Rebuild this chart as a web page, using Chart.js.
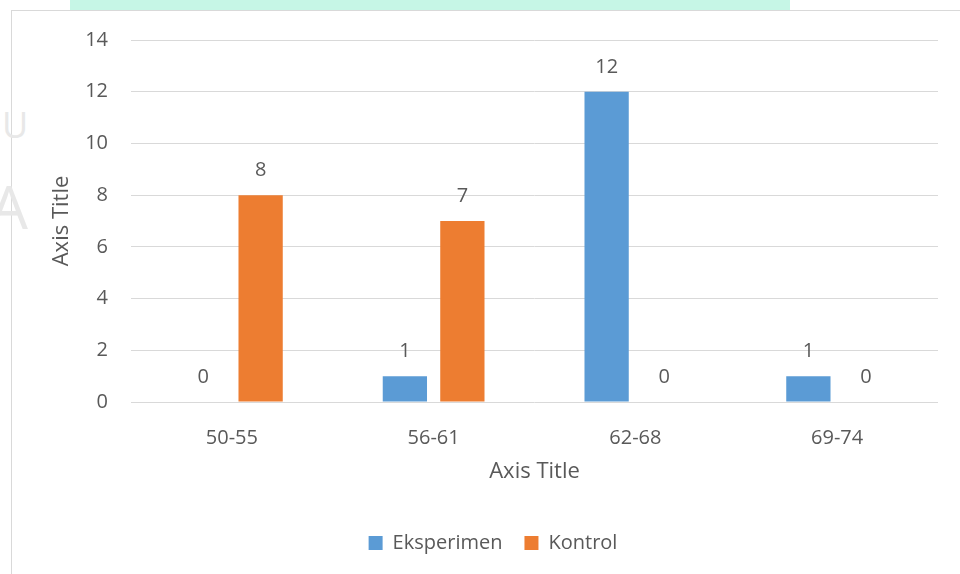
<!DOCTYPE html>
<html>
<head>
<meta charset="utf-8">
<script src="https://cdn.jsdelivr.net/npm/chart.js@4.4.1/dist/chart.umd.min.js"></script>
<style>
    html, body { margin: 0; padding: 0; width: 960px; height: 574px; overflow: hidden; background: #fff; }
    .band { position: absolute; left: 70px; top: 0; width: 720px; height: 10px; background: #c6f6e6; }
    .frame { position: absolute; left: 11px; top: 10px; width: 1000px; height: 600px; border: 1px solid #d9d9d9; }
    .wm { position: absolute; color: #e8e8e8; font-family: 'Open Sans', sans-serif; }
    .wrap { position: absolute; left: 0; top: 0; width: 960px; height: 574px; }
</style>
</head>
<body>
<div class="band"></div>
<div class="frame"></div>
<div class="wm" style="left:2px; top:100px; font-size:36px;">U</div>
<div class="wm" style="left:-10px; top:165px; font-size:60px;">A</div>
<div class="wrap"><canvas id="chart"></canvas></div>
<script>
// ─── Data ───
const categories = ['50-55', '56-61', '62-68', '69-74'];
const eksperimen = [0, 1, 12, 1];
const kontrol = [8, 7, 0, 0];
const yMin = 0, yMax = 14, yStep = 2;

const textColor = '#595959';
Chart.defaults.font.family = "'Open Sans', sans-serif";
Chart.defaults.color = textColor;

// value labels above each bar (zeros included)
const barLabels = {
    id: 'barLabels',
    afterDatasetsDraw(chart) {
        const ctx = chart.ctx;
        ctx.save();
        ctx.font = "20px 'Open Sans', sans-serif";
        ctx.fillStyle = textColor;
        ctx.textAlign = 'center';
        ctx.textBaseline = 'alphabetic';
        chart.data.datasets.forEach((ds, i) => {
            chart.getDatasetMeta(i).data.forEach((bar, j) => {
                ctx.fillText(String(ds.data[j]), bar.x, bar.y - 19);
            });
        });
        ctx.restore();
    }
};

new Chart(document.getElementById('chart').getContext('2d'), {
    type: 'bar',
    data: {
        labels: categories,
        datasets: [
            { label: 'Eksperimen', data: eksperimen, backgroundColor: '#5B9BD5' },
            { label: 'Kontrol', data: kontrol, backgroundColor: '#ED7D31' }
        ]
    },
    options: {
        responsive: true,
        maintainAspectRatio: false,
        animation: false,
        categoryPercentage: 0.57,
        barPercentage: 0.77,
        layout: { padding: { left: 48, right: 22, top: 40, bottom: 11 } },
        scales: {
            x: {
                grid: { display: false },
                border: { display: false },
                ticks: { font: { size: 20 }, padding: 16, color: textColor },
                title: { display: true, text: 'Axis Title', font: { size: 22 }, color: textColor, padding: { top: 0, bottom: 26 } },
                afterFit: s => { s.height = 109; }
            },
            y: {
                min: yMin,
                max: yMax,
                ticks: { stepSize: yStep, font: { size: 20 }, padding: 23, color: textColor },
                grid: { color: '#d9d9d9', lineWidth: 1, drawTicks: false },
                border: { display: false },
                title: { display: true, text: 'Axis Title', font: { size: 22 }, color: textColor, padding: { top: 1, bottom: 0 } },
                afterFit: s => { s.width = 83; }
            }
        },
        plugins: {
            legend: {
                position: 'bottom',
                labels: { boxWidth: 14, boxHeight: 14, padding: 22, font: { size: 20 }, color: textColor }
            },
            tooltip: { enabled: false }
        }
    },
    plugins: [barLabels]
});
</script>
</body>
</html>
